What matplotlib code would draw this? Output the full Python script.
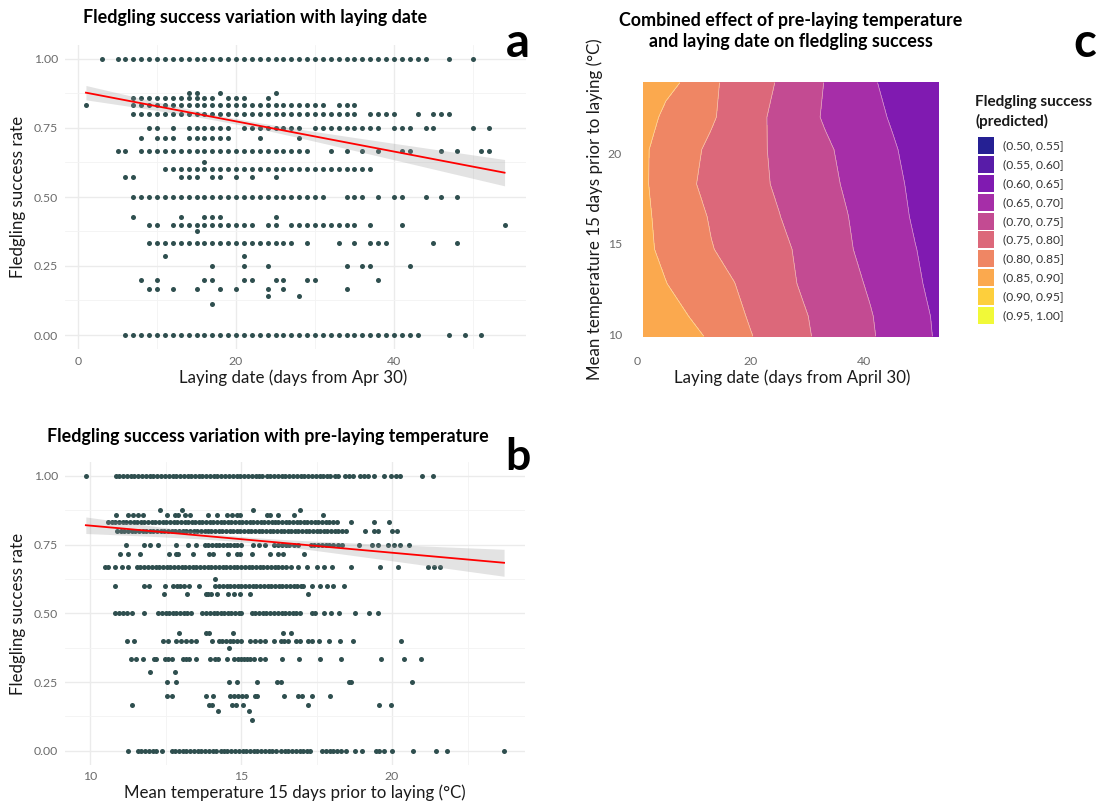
import numpy as np
import matplotlib
matplotlib.use("Agg")
import matplotlib.pyplot as plt
from matplotlib.patches import Rectangle

plt.rcParams['font.family'] = ['Lato', 'DejaVu Sans']

# ---------------- Panel a: fledgling success vs laying date ----------------
a_y_levels = [1.0, 7/8, 6/7, 5/6, 0.8, 0.75, 5/7, 2/3, 5/8, 0.6, 4/7, 0.5,
              3/7, 0.4, 3/8, 1/3, 2/7, 0.25, 0.2, 1/6, 1/7, 1/9, 0.0]
a_x_1000 = [3, 5, 6, 7, 8, 9, 10, 11, 12, 13, 14, 15, 16, 17, 18, 19, 20, 21, 22, 23, 24,
            25, 26, 27, 28, 29, 30, 31, 32, 33, 34, 35, 36, 37, 38, 39, 40, 41, 42, 43, 44, 47, 50]
a_x_0875 = [14, 15, 18, 25]
a_x_0857 = [7, 8, 9, 10, 11, 12, 13, 14, 15, 16, 17, 19, 20, 21, 24]
a_x_0833 = [1, 7, 8, 9, 10, 11, 12, 13, 14, 15, 16, 17, 18, 19, 20, 21, 22, 23, 24, 25, 26,
            27, 28, 29, 30, 31, 33, 34, 35]
a_x_0800 = [7, 8, 9, 10, 11, 12, 13, 14, 15, 16, 17, 18, 19, 20, 21, 22, 23, 24, 25, 26, 27,
            28, 29, 30, 31, 32, 33, 34, 35, 37, 38, 39, 40, 43, 45, 46, 47]
a_x_0750 = [9, 10, 12, 14, 15, 16, 17, 18, 19, 21, 22, 23, 24, 25, 26, 27, 28, 30, 31, 32,
            33, 34, 35, 36, 37, 38, 40, 41, 42, 44, 45, 50, 52]
a_x_0714 = [8, 10, 11, 12, 14, 15, 16, 17, 18, 19, 23, 28]
a_x_0667 = [5, 6, 8, 9, 10, 11, 12, 13, 14, 15, 16, 17, 18, 19, 20, 21, 22, 23, 24, 25, 26,
            27, 28, 29, 32, 34, 36, 38, 41, 42, 46, 48, 51, 52]
a_x_0625 = [16]
a_x_0600 = [11, 12, 13, 14, 15, 16, 17, 18, 19, 20, 21, 22, 23, 24, 25, 26, 27, 28, 29, 30,
            31, 32, 33, 34, 35, 36, 37]
a_x_0571 = [6, 7, 13, 14, 15, 17, 18, 20, 22, 25]
a_x_0500 = [7, 8, 9, 10, 11, 12, 13, 14, 15, 16, 17, 18, 19, 20, 21, 22, 23, 24, 25, 26, 27,
            28, 29, 30, 31, 34, 35, 36, 38, 40, 41, 44, 46, 48]
a_x_0429 = [7, 13, 16, 17, 18, 25]
a_x_0400 = [9, 10, 12, 13, 14, 15, 16, 17, 18, 19, 20, 21, 22, 24, 25, 27, 28, 29, 30, 31,
            32, 33, 34, 35, 37, 41, 54]
a_x_0375 = [15]
a_x_0333 = [9, 10, 11, 12, 13, 14, 15, 16, 17, 18, 19, 20, 21, 22, 23, 24, 25, 26, 27, 29,
            33, 35, 37, 38, 39, 45, 48]
a_x_0286 = [11, 21]
a_x_0250 = [17, 21, 24, 34, 36, 37, 42]
a_x_0200 = [8, 10, 16, 17, 21, 22, 25, 26, 29, 30, 38]
a_x_0167 = [9, 10, 12, 15, 18, 20, 24, 26, 34]
a_x_0143 = [24, 28]
a_x_0111 = [17]
a_x_0000 = [6, 7, 8, 9, 10, 11, 12, 13, 14, 15, 16, 17, 18, 19, 20, 21, 22, 23, 24, 25, 26,
            27, 28, 29, 30, 31, 32, 33, 34, 35, 36, 37, 38, 39, 40, 41, 42, 43, 47, 49, 51]
a_rows = [a_x_1000, a_x_0875, a_x_0857, a_x_0833, a_x_0800, a_x_0750, a_x_0714, a_x_0667,
          a_x_0625, a_x_0600, a_x_0571, a_x_0500, a_x_0429, a_x_0400, a_x_0375, a_x_0333,
          a_x_0286, a_x_0250, a_x_0200, a_x_0167, a_x_0143, a_x_0111, a_x_0000]
# fitted line: intercept, slope, x-range; CI half-width params
a_fit_intercept, a_fit_slope = 0.8835, -0.00547
a_fit_range = (1, 54)
a_ci_center, a_ci_min, a_ci_k = 19.0, 0.010, 1.78e-6

# ---------------- Panel b: fledgling success vs pre-laying temperature ----------------
b_y_levels = [1.0, 7/8, 6/7, 5/6, 0.8, 0.75, 5/7, 2/3, 5/8, 0.6, 4/7, 0.5,
              3/7, 0.4, 3/8, 1/3, 2/7, 0.25, 0.2, 1/6, 1/7, 1/9, 0.0]
b_x_1000 = [9.86, 10.85, 10.97, 11.1, 11.21, 11.35, 11.46, 11.6, 11.71, 11.85, 11.97, 12.1,
            12.22, 12.36, 12.47, 12.6, 12.73, 12.85, 12.97, 13.1, 13.23, 13.35, 13.46, 13.6,
            13.72, 13.85, 13.98, 14.1, 14.21, 14.35, 14.47, 14.6, 14.73, 14.85, 14.96, 15.1,
            15.22, 15.35, 15.48, 15.6, 15.71, 15.85, 15.97, 16.1, 16.23, 16.35, 16.46, 16.6,
            16.72, 16.85, 16.98, 17.1, 17.21, 17.35, 17.47, 17.6, 17.73, 17.85, 17.96, 18.1,
            18.22, 18.45, 18.56, 18.7, 18.95, 19.07, 19.2, 19.4, 19.75, 19.98, 20.12, 20.27,
            21.0, 21.35]
b_x_0875 = [12.3, 13.05, 15.4, 16.95]
b_x_0857 = [10.85, 11.27, 11.43, 11.6, 11.74, 12.54, 12.81, 12.9, 13.15, 13.31, 13.89, 14.2,
            14.53, 14.69, 14.86, 14.97, 15.85, 15.96, 16.24, 16.75, 17.72]
b_x_0833 = [10.6, 10.72, 10.84, 10.97, 11.08, 11.2, 11.33, 11.44, 11.56, 11.69, 11.8, 11.92,
            12.05, 12.16, 12.28, 12.41, 12.52, 12.64, 12.77, 12.88, 13.0, 13.13, 13.24, 13.36,
            13.49, 13.6, 13.72, 13.85, 13.96, 14.08, 14.21, 14.32, 14.44, 14.57, 14.68, 14.8,
            14.93, 15.04, 15.16, 15.29, 15.4, 15.52, 15.65, 15.76, 15.88, 16.01, 16.12, 16.24,
            16.37, 16.48, 16.6, 16.73, 16.84, 16.96, 17.09, 17.2, 17.32, 17.45, 17.56, 17.68,
            17.81, 17.92, 18.04, 18.18, 18.65, 19.4, 19.9]
b_x_0800 = [10.9, 11.02, 11.14, 11.27, 11.38, 11.5, 11.63, 11.74, 11.86, 11.99, 12.1, 12.22,
            12.35, 12.46, 12.58, 12.71, 12.82, 12.94, 13.07, 13.18, 13.3, 13.43, 13.54, 13.66,
            13.79, 13.9, 14.02, 14.15, 14.26, 14.38, 14.51, 14.62, 14.74, 14.87, 14.98, 15.1,
            15.23, 15.34, 15.46, 15.59, 15.7, 15.82, 15.95, 16.06, 16.18, 16.31, 16.42, 16.54,
            16.67, 16.78, 16.9, 17.03, 17.14, 17.26, 17.39, 17.5, 17.62, 17.75, 17.86, 17.98,
            18.11, 18.22, 18.34, 18.48, 19.1, 19.4, 19.55, 20.0, 20.15]
b_x_0750 = [11.2, 11.8, 12.0, 12.25, 12.85, 13.25, 13.5, 13.8, 13.92, 14.05, 14.16, 14.28,
            14.41, 14.52, 14.64, 14.77, 14.88, 15.0, 15.4, 15.6, 15.8, 16.1, 16.22, 16.35,
            16.48, 16.6, 16.75, 16.88, 17.3, 17.42, 17.55, 17.67, 17.8, 17.92, 18.05, 18.2,
            18.35, 18.9, 19.35, 19.55, 19.85, 20.05, 20.25, 20.55]
b_x_0714 = [11.0, 11.27, 11.65, 12.6, 12.83, 12.92, 13.4, 13.95, 14.06, 14.58, 14.86, 14.95,
            15.35, 15.96, 16.24, 16.4, 17.08]
b_x_0667 = [10.5, 10.6, 10.83, 11.05, 11.27, 11.55, 11.67, 11.8, 11.92, 12.04, 12.17, 12.29,
            12.41, 12.54, 12.66, 12.78, 12.91, 13.03, 13.15, 13.28, 13.4, 13.52, 13.65, 13.77,
            13.89, 14.02, 14.14, 14.26, 14.39, 14.51, 14.63, 14.76, 14.88, 15.0, 15.13, 15.25,
            15.37, 15.5, 15.62, 15.74, 15.87, 15.99, 16.11, 16.24, 16.36, 16.48, 16.65, 16.9,
            17.2, 17.5, 17.75, 18.0, 18.65, 19.6, 20.2, 21.2, 21.4, 21.6]
b_x_0625 = [14.14]
b_x_0600 = [10.83, 11.8, 11.95, 12.48, 12.74, 12.87, 12.98, 13.1, 13.26, 13.6, 14.15, 14.27,
            14.4, 14.52, 14.64, 14.77, 14.89, 15.01, 15.14, 15.26, 15.38, 15.51, 15.63, 15.75,
            15.88, 16.0, 16.12, 16.25, 16.37, 16.49, 16.62, 16.74, 16.86, 16.99, 17.05, 17.34,
            17.6, 17.83, 18.05, 18.4]
b_x_0571 = [12.46, 13.22, 13.84, 13.92, 14.0, 14.2, 14.58, 14.77, 14.97, 15.28, 17.23]
b_x_0500 = [10.81, 10.95, 11.09, 11.23, 11.38, 11.78, 12.26, 12.38, 12.5, 12.62, 12.74, 12.86,
            12.98, 13.1, 13.22, 13.35, 13.7, 13.83, 13.98, 14.1, 14.2, 14.32, 14.44, 14.56,
            14.68, 14.8, 14.92, 15.0, 15.35, 15.47, 15.6, 15.72, 15.84, 15.97, 16.09, 16.21,
            16.34, 16.46, 16.58, 16.71, 16.83, 16.95, 17.35, 17.46, 17.75, 17.98, 18.26, 18.78,
            19.23, 19.52]
b_x_0429 = [12.93, 13.84, 13.93, 14.75, 16.4, 16.66]
b_x_0400 = [11.21, 11.46, 12.43, 12.57, 12.83, 13.0, 13.18, 13.35, 13.52, 14.03, 14.26, 14.38,
            14.5, 14.62, 14.74, 14.86, 15.0, 15.29, 15.46, 15.63, 15.8, 16.09, 16.32, 16.43,
            16.55, 16.83, 16.95, 17.23, 17.35, 17.58, 17.92, 18.29, 18.72, 20.3]
b_x_0375 = [14.6]
b_x_0333 = [11.35, 11.52, 11.75, 12.13, 12.2, 12.47, 12.58, 12.72, 13.09, 13.18, 13.29, 13.52,
            13.98, 14.15, 14.24, 14.55, 14.78, 14.9, 15.0, 15.1, 15.2, 15.29, 15.44, 15.63,
            15.78, 16.34, 16.93, 17.61, 18.3, 19.63, 20.38, 20.97]
b_x_0286 = [11.98, 12.81]
b_x_0250 = [12.55, 12.86, 14.6, 14.86, 15.52, 16.18, 16.32, 18.58, 18.64, 20.66]
b_x_0200 = [12.55, 12.72, 13.84, 14.06, 14.64, 14.78, 14.89, 15.04, 15.18, 15.46, 15.52, 16.43,
            16.87, 17.03, 17.35, 17.94]
b_x_0167 = [11.38, 13.95, 14.03, 14.69, 14.83, 15.06, 17.21, 19.58, 19.95]
b_x_0143 = [14.23, 15.26]
b_x_0111 = [15.35]
b_x_0000 = [11.26, 11.58, 11.7, 11.82, 11.95, 12.08, 12.2, 12.38, 12.7, 12.82, 12.95, 13.07,
            13.19, 13.32, 13.44, 13.56, 13.69, 13.81, 13.93, 14.06, 14.18, 14.32, 14.43, 14.55,
            14.68, 14.8, 14.92, 15.05, 15.17, 15.29, 15.42, 15.54, 15.66, 15.79, 15.91, 16.03,
            16.15, 16.32, 16.44, 16.57, 16.69, 16.81, 16.94, 17.06, 17.18, 17.29, 17.69, 17.81,
            17.94, 18.06, 18.18, 18.31, 18.47, 18.78, 19.0, 19.46, 19.58, 19.75, 20.0, 20.69,
            21.46, 21.83, 23.71]
b_rows = [b_x_1000, b_x_0875, b_x_0857, b_x_0833, b_x_0800, b_x_0750, b_x_0714, b_x_0667,
          b_x_0625, b_x_0600, b_x_0571, b_x_0500, b_x_0429, b_x_0400, b_x_0375, b_x_0333,
          b_x_0286, b_x_0250, b_x_0200, b_x_0167, b_x_0143, b_x_0111, b_x_0000]
b_fit_intercept, b_fit_slope = 0.9173, -0.00986
b_fit_range = (9.86, 23.71)
b_ci_center, b_ci_min, b_ci_k = 15.0, 0.010, 3.04e-5

# ---------------- Panel c: predicted surface ----------------
c_days = [1, 5, 9, 13, 17, 21, 25, 29, 33, 37, 41, 45, 49, 53]
c_temps = [9.9, 11.0, 12.8, 14.7, 16.5, 18.3, 20.2, 22.0, 23.9]
c_t099 = [0.890, 0.876, 0.862, 0.844, 0.815, 0.797, 0.778, 0.758, 0.739, 0.722, 0.705, 0.685, 0.665, 0.645]
c_t110 = [0.882, 0.866, 0.850, 0.830, 0.810, 0.791, 0.773, 0.755, 0.737, 0.720, 0.703, 0.682, 0.660, 0.645]
c_t128 = [0.866, 0.851, 0.833, 0.817, 0.801, 0.782, 0.764, 0.746, 0.725, 0.713, 0.695, 0.675, 0.655, 0.640]
c_t147 = [0.860, 0.840, 0.821, 0.802, 0.787, 0.773, 0.759, 0.743, 0.724, 0.705, 0.686, 0.668, 0.651, 0.635]
c_t165 = [0.858, 0.837, 0.818, 0.796, 0.781, 0.765, 0.751, 0.733, 0.717, 0.701, 0.682, 0.664, 0.645, 0.630]
c_t183 = [0.856, 0.831, 0.806, 0.789, 0.774, 0.759, 0.744, 0.727, 0.711, 0.695, 0.679, 0.659, 0.642, 0.625]
c_t202 = [0.856, 0.833, 0.811, 0.792, 0.775, 0.758, 0.741, 0.724, 0.707, 0.690, 0.672, 0.654, 0.637, 0.620]
c_t220 = [0.865, 0.843, 0.824, 0.805, 0.783, 0.760, 0.738, 0.716, 0.696, 0.679, 0.662, 0.646, 0.630, 0.615]
c_t239 = [0.870, 0.858, 0.845, 0.808, 0.786, 0.766, 0.746, 0.722, 0.699, 0.680, 0.655, 0.640, 0.615, 0.605]
c_levels = [0.50, 0.55, 0.60, 0.65, 0.70, 0.75, 0.80, 0.85, 0.90, 0.95, 1.00]
legend_labels = ["(0.50, 0.55]", "(0.55, 0.60]", "(0.60, 0.65]", "(0.65, 0.70]", "(0.70, 0.75]",
                 "(0.75, 0.80]", "(0.80, 0.85]", "(0.85, 0.90]", "(0.90, 0.95]", "(0.95, 1.00]"]

# ---------------- Drawing ----------------
W, H = 1099, 805
fig = plt.figure(figsize=(W / 100, H / 100), dpi=100)
fig.patch.set_facecolor('white')


def px_axes(left, top, right, bottom):
    return fig.add_axes([left / W, 1 - bottom / H, (right - left) / W, (bottom - top) / H])


def fx(x):
    return x / W


def fy(y):
    return 1 - y / H


POINT = '#2F4F4F'
TICKC = '#6b6b6b'


def style_scatter_axes(ax, xmaj, xmin, xlim):
    ax.set_xlim(*xlim)
    ax.set_ylim(-0.05, 1.05)
    for s in ax.spines.values():
        s.set_visible(False)
    ax.set_xticks(xmaj)
    ax.set_xticks(xmin, minor=True)
    ax.set_yticks([0, 0.25, 0.5, 0.75, 1.0])
    ax.set_yticklabels(["0.00", "0.25", "0.50", "0.75", "1.00"])
    ax.set_yticks([0.125, 0.375, 0.625, 0.875], minor=True)
    ax.grid(True, which='major', color='#EBEBEB', lw=1.0, zorder=0)
    ax.grid(True, which='minor', color='#F3F3F3', lw=0.6, zorder=0)
    ax.tick_params(which='both', length=0, labelsize=8.8, colors=TICKC, pad=5)
    ax.set_axisbelow(True)


def draw_scatter(ax, levels, rows, intercept, slope, xr, cc, cmin, ck):
    for yv, xs in zip(levels, rows):
        ax.scatter(xs, [yv] * len(xs), s=13, color=POINT, linewidths=0, zorder=2)
    xx = np.linspace(xr[0], xr[1], 200)
    yy = intercept + slope * xx
    hw = np.sqrt(cmin ** 2 + ck * (xx - cc) ** 2)
    ax.fill_between(xx, yy - hw, yy + hw, color='#999999', alpha=0.27, lw=0, zorder=3)
    ax.plot(xx, yy, color='red', lw=1.3, zorder=4)


# Panel a
ax_a = px_axes(65, 45.2, 525.5, 348.8)
style_scatter_axes(ax_a, [0, 20, 40], [10, 30, 50], (-1.65, 56.65))
draw_scatter(ax_a, a_y_levels, a_rows, a_fit_intercept, a_fit_slope, a_fit_range,
             a_ci_center, a_ci_min, a_ci_k)

# Panel b
ax_b = px_axes(65, 462, 524.6, 764.5)
style_scatter_axes(ax_b, [10, 15, 20], [12.5, 17.5, 22.5], (9.17, 24.39))
draw_scatter(ax_b, b_y_levels, b_rows, b_fit_intercept, b_fit_slope, b_fit_range,
             b_ci_center, b_ci_min, b_ci_k)

# Panel c
plasma = plt.cm.plasma(np.linspace(0, 1, 10))
alpha = 0.9
fill_cols = [tuple(alpha * np.array(c[:3]) + (1 - alpha)) for c in plasma]

ax_c = px_axes(628.8, 70, 952.8, 348.8)
X, Y = np.meshgrid(c_days, c_temps)
Z = np.array([c_t099, c_t110, c_t128, c_t147, c_t165, c_t183, c_t202, c_t220, c_t239])
ax_c.contourf(X, Y, Z, levels=c_levels, colors=fill_cols, zorder=1)
ax_c.contour(X, Y, Z, levels=c_levels, colors='white', linewidths=0.5, alpha=0.55, zorder=2)
ax_c.set_xlim(-1.54, 55.6)
ax_c.set_ylim(9.2, 24.6)
for s in ax_c.spines.values():
    s.set_visible(False)
ax_c.set_xticks([0, 20, 40])
ax_c.set_yticks([10, 15, 20])
ax_c.tick_params(length=0, labelsize=8.8, colors=TICKC, pad=5)

# Axis titles
TXT = '#1a1a1a'
AXS = 12.2
fig.text(fx(293), fy(378), "Laying date (days from Apr 30)", ha='center', va='center',
         fontsize=AXS, color=TXT)
fig.text(fx(18), fy(197), "Fledgling success rate", ha='center', va='center',
         rotation=90, fontsize=AXS, color=TXT)
fig.text(fx(295), fy(793), "Mean temperature 15 days prior to laying (°C)", ha='center',
         va='center', fontsize=AXS, color=TXT)
fig.text(fx(18), fy(614), "Fledgling success rate", ha='center', va='center',
         rotation=90, fontsize=AXS, color=TXT)
fig.text(fx(792), fy(378), "Laying date (days from April 30)", ha='center', va='center',
         fontsize=AXS, color=TXT)
fig.text(fx(595), fy(209), "Mean temperature 15 days prior to laying (°C)", ha='center',
         va='center', rotation=90, fontsize=AXS, color=TXT)

# Titles
TTS = 12.9
fig.text(fx(255), fy(18), "Fledgling success variation with laying date", ha='center',
         va='center', fontsize=TTS, fontweight='bold', color='black')
fig.text(fx(268), fy(436), "Fledgling success variation with pre-laying temperature",
         ha='center', va='center', fontsize=TTS, fontweight='bold', color='black')
fig.text(fx(791), fy(31), "Combined effect of pre-laying temperature\nand laying date on fledgling success",
         ha='center', va='center', fontsize=TTS, fontweight='bold', color='black',
         linespacing=1.35)

# Panel letters
fig.text(fx(518), fy(57), "a", ha='center', va='baseline', fontsize=34, fontweight='bold')
fig.text(fx(518), fy(470), "b", ha='center', va='baseline', fontsize=32, fontweight='bold')
fig.text(fx(1085), fy(57), "c", ha='center', va='baseline', fontsize=34, fontweight='bold')

# Legend
fig.text(fx(975), fy(112), "Fledgling success\n(predicted)", ha='left', va='center',
         fontsize=11, fontweight='bold', color=TXT, linespacing=1.35)
for i, (lab, col) in enumerate(zip(legend_labels, fill_cols)):
    yc = 146 + 18.8 * i
    fig.patches.append(Rectangle((fx(978), fy(yc + 8.5)), 16 / W, 17 / H,
                                 transform=fig.transFigure, facecolor=col, edgecolor='none'))
    fig.text(fx(1003), fy(yc), lab, ha='left', va='center', fontsize=8.7, color='#333333')

fig.savefig("out.png", dpi=100, facecolor='white')
